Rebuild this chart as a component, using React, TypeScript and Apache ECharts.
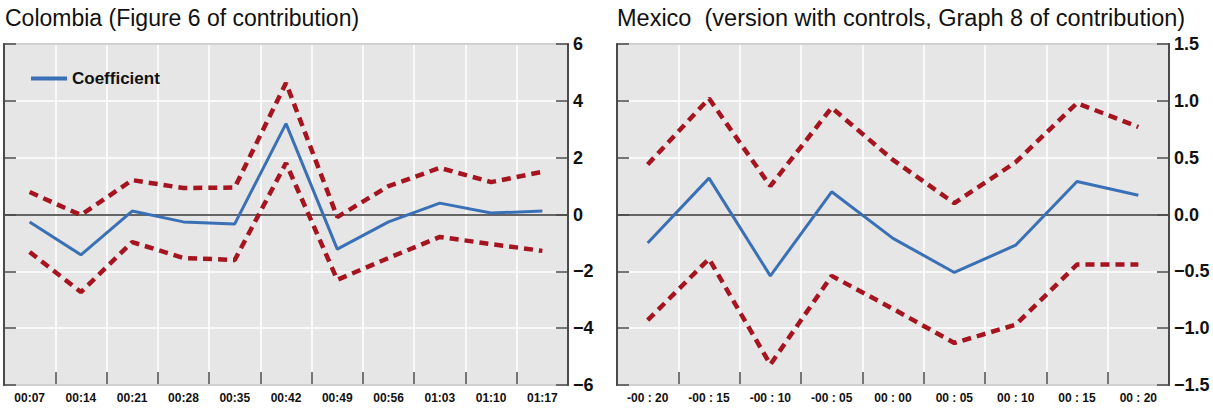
import React, { useEffect, useRef } from "react";
import * as echarts from "echarts";

const colCategories = ["00:07", "00:14", "00:21", "00:28", "00:35", "00:42", "00:49", "00:56", "01:03", "01:10", "01:17"];
const colCoef = [-0.26, -1.42, 0.12, -0.26, -0.33, 3.2, -1.22, -0.26, 0.4, 0.05, 0.12];
const colUpper = [0.79, -0.02, 1.21, 0.93, 0.95, 4.63, -0.09, 1.0, 1.64, 1.14, 1.5];
const colLower = [-1.32, -2.73, -0.97, -1.53, -1.6, 1.81, -2.3, -1.53, -0.79, -1.04, -1.28];

const mexCategories = ["-00 : 20", "-00 : 15", "-00 : 10", "-00 : 05", "00 : 00", "00 : 05", "00 : 10", "00 : 15", "00 : 20"];
const mexCoef = [-0.25, 0.32, -0.54, 0.2, -0.21, -0.51, -0.27, 0.29, 0.17];
const mexUpper = [0.44, 1.02, 0.25, 0.94, 0.48, 0.1, 0.46, 0.98, 0.77];
const mexLower = [-0.93, -0.39, -1.32, -0.54, -0.83, -1.13, -0.97, -0.44, -0.44];

const titles = ["Colombia (Figure 6 of contribution)", "Mexico  (version with controls, Graph 8 of contribution)"];

const BLUE = "#3a70b6";
const RED = "#a5141f";
const FONT = "Liberation Sans, Arial, sans-serif";
const FRAME = "#4a4a4a";

export default function App() {
  const ref = useRef<HTMLDivElement>(null);
  useEffect(() => {
    const chart = echarts.init(ref.current!, null, { renderer: "svg" });
    const minus = (v: number, dec: number) => {
      const s = Math.abs(v).toFixed(dec);
      return v < 0 ? "\u2212" + s : s;
    };
    const mkX = (gi: number, cats: string[], pos: string) => ({
      type: "category",
      gridIndex: gi,
      position: pos,
      data: cats,
      boundaryGap: true,
      axisLine: { show: true, onZero: false, lineStyle: { color: FRAME, width: 2 } },
      axisTick: { show: pos === "bottom", inside: true, length: 13, lineStyle: { color: FRAME, width: 1.5 } },
      axisLabel: { show: pos === "bottom", color: "#111", fontFamily: FONT, fontWeight: "bold", fontSize: 12, margin: 7 },
      splitLine: { show: pos === "bottom", lineStyle: { color: "#ffffff", width: 1.5 } },
      z: 4,
    });
    const mkY = (gi: number, min: number, max: number, interval: number, dec: number, pos: string, labels: boolean) => ({
      type: "value",
      gridIndex: gi,
      position: pos,
      min,
      max,
      interval,
      axisLine: { show: true, onZero: false, lineStyle: { color: FRAME, width: 2 } },
      axisTick: { show: true, inside: true, length: 12, lineStyle: { color: FRAME, width: 1.5 } },
      axisLabel: {
        show: labels,
        color: "#111",
        fontFamily: FONT,
        fontWeight: "bold",
        fontSize: 18,
        margin: 5,
        formatter: (v: number) => minus(v, dec),
      },
      splitLine: { show: pos === "right", lineStyle: { color: "#ffffff", width: 1.5 } },
      z: 5,
    });
    const redStyle = { color: RED, width: 4.5, type: [9, 6] as any };
    const blueStyle = { color: BLUE, width: 3 };
    const zeroLine = {
      silent: true,
      symbol: "none",
      label: { show: false },
      lineStyle: { color: "#333", width: 1.5, type: "solid" },
      data: [{ yAxis: 0 }],
    };
    chart.setOption({
      animation: false,
      title: [
        { text: titles[0], left: 0, top: 1, textStyle: { fontFamily: FONT, fontWeight: "normal", fontSize: 23, color: "#111" } },
        { text: titles[1], left: 612, top: 1, textStyle: { fontFamily: FONT, fontWeight: "normal", fontSize: 23.5, color: "#111" } },
      ],
      legend: {
        data: [{ name: "Coefficient", icon: "rect" }],
        left: 26,
        top: 65,
        itemWidth: 36,
        itemHeight: 4,
        itemGap: 8,
        z: 20,
        textStyle: { fontFamily: FONT, fontWeight: "bold", fontSize: 17, color: "#111" },
      },
      grid: [
        { left: 4, top: 44, width: 564, height: 341, show: true, backgroundColor: "#e6e6e6", borderWidth: 0 },
        { left: 617, top: 44, width: 552, height: 341, show: true, backgroundColor: "#e6e6e6", borderWidth: 0 },
      ],
      xAxis: [mkX(0, colCategories, "bottom"), mkX(0, colCategories, "top"), mkX(1, mexCategories, "bottom"), mkX(1, mexCategories, "top")],
      yAxis: [
        mkY(0, -6, 6, 2, 0, "right", true),
        mkY(0, -6, 6, 2, 0, "left", false),
        mkY(1, -1.5, 1.5, 0.5, 1, "right", true),
        mkY(1, -1.5, 1.5, 0.5, 1, "left", false),
      ],
      series: [
        { name: "Upper", type: "line", xAxisIndex: 0, yAxisIndex: 0, data: colUpper, symbol: "none", lineStyle: redStyle, z: 7 },
        { name: "Lower", type: "line", xAxisIndex: 0, yAxisIndex: 0, data: colLower, symbol: "none", lineStyle: redStyle, z: 7 },
        { name: "Coefficient", type: "line", xAxisIndex: 0, yAxisIndex: 0, data: colCoef, symbol: "none", lineStyle: blueStyle, itemStyle: { color: BLUE }, markLine: zeroLine, z: 8 },
        { name: "Upper2", type: "line", xAxisIndex: 2, yAxisIndex: 2, data: mexUpper, symbol: "none", lineStyle: redStyle, z: 7 },
        { name: "Lower2", type: "line", xAxisIndex: 2, yAxisIndex: 2, data: mexLower, symbol: "none", lineStyle: redStyle, z: 7 },
        { name: "Coefficient2", type: "line", xAxisIndex: 2, yAxisIndex: 2, data: mexCoef, symbol: "none", lineStyle: blueStyle, itemStyle: { color: BLUE }, markLine: zeroLine, z: 8 },
      ],
    });
    return () => chart.dispose();
  }, []);
  return <div ref={ref} style={{ position: "absolute", left: 0, top: 0, width: 1213, height: 410 }} />;
}
